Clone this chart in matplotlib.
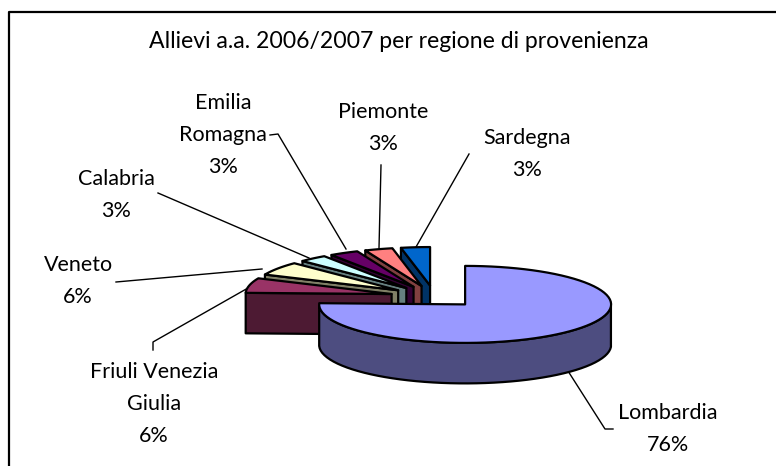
import numpy as np
import matplotlib
matplotlib.use("Agg")
import matplotlib.pyplot as plt
from matplotlib.patches import Polygon

plt.rcParams['font.family'] = ['Lato', 'DejaVu Sans']

title = "Allievi a.a. 2006/2007 per regione di provenienza"
regions = ["Lombardia", "Friuli Venezia\nGiulia", "Veneto", "Calabria",
           "Emilia\nRomagna", "Piemonte", "Sardegna"]
labels = ["76%", "6%", "6%", "3%", "3%", "3%", "3%"]
shares = [75.5, 6.2, 5.7, 3.1, 3.2, 3.1, 3.2]
top_colors = ["#9999ff", "#993366", "#ffffcc", "#ccffff", "#660066", "#ff8080", "#0066cc"]
side_colors = ["#4d4d80", "#4d1a33", "#808066", "#668080", "#330033", "#804040", "#003366"]

# label anchor and leader line, in pixels
label_pos = [(668, 429), (154, 404), (78, 281), (116, 195), (223, 135), (383, 128), (527, 154)]
leaders = [[(568, 371), (605, 429), (613, 429)],
           [(248, 288), (153, 342), (153, 350)],
           [(262, 269), (116, 282)],
           [(309, 258), (158, 193)],
           [(346, 249), (278, 134), (270, 135)],
           [(379, 248), (381, 165)],
           [(416, 247), (469, 154)]]

CX, CY = 434.5, 296.5
RX, RY = 146, 38.5
DEPTH = 40.5
EXPLODE = 44

fig = plt.figure(figsize=(7.76, 4.66), dpi=100)
ax = fig.add_axes([0, 0, 1, 1])
ax.set_xlim(0, 776)
ax.set_ylim(466, 0)
ax.axis("off")

# chart border, cut off by the picture on the right and at the bottom
ax.plot([9, 9, 776], [466, 11.5, 11.5], color="black", lw=1.6, zorder=1)


def slice_shape(start, end):
    mid = np.radians((start + end) / 2)
    ox = CX + EXPLODE * np.cos(mid)
    oy = CY - EXPLODE * 0.25 * np.sin(mid)
    t = np.radians(np.linspace(start, end, 80))
    return ox, oy, ox + RX * np.cos(t), oy - RY * np.sin(t)


# angles run clockwise from twelve o'clock, so the last slices sit at the back
edges = 90 - 3.6 * np.cumsum([0] + shares)
order = list(range(len(shares) - 1, 0, -1)) + [0]
z = 2
for i in order:
    ox, oy, xs, ys = slice_shape(edges[i + 1], edges[i])
    style = dict(ec="black", lw=1.6, joinstyle="round")
    if i == 0:
        # outer wall of the big slice, only the part facing us
        keep = np.sin(np.radians(np.linspace(edges[1], edges[0], 80))) <= 0
        wx, wy = xs[keep], ys[keep]
        wall = np.r_[np.c_[wx, wy], np.c_[wx[::-1], wy[::-1] + DEPTH]]
    else:
        # cut face along the lower edge of the slice
        wall = np.array([(xs[-1], ys[-1]), (ox, oy), (ox, oy + DEPTH), (xs[-1], ys[-1] + DEPTH)])
    ax.add_patch(Polygon(wall, fc=side_colors[i], zorder=z, **style))
    ax.add_patch(Polygon(np.r_[[(ox, oy)], np.c_[xs, ys]], fc=top_colors[i], zorder=z + 1, **style))
    z += 2

for pts in leaders:
    pts = np.array(pts)
    ax.plot(pts[:, 0], pts[:, 1], color="black", lw=1, zorder=1)

for name, pct, (x, y) in zip(regions, labels, label_pos):
    ax.text(x, y, name + "\n" + pct, ha="center", va="center", fontsize=15.5,
            linespacing=1.73, color="black", zorder=30)

ax.text(399, 42, title, ha="center", va="center", fontsize=16.6, color="black", zorder=30)

fig.savefig("out.png", dpi=100)
